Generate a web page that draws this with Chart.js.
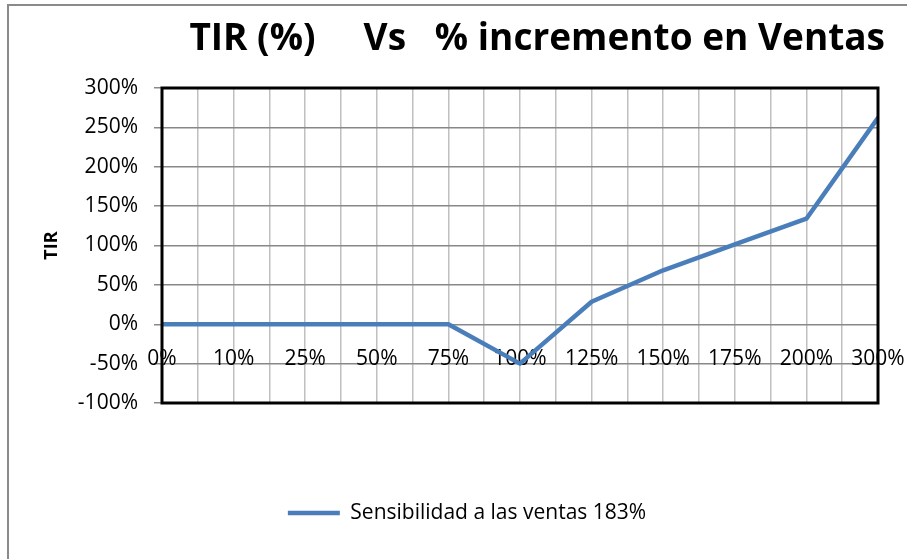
<!DOCTYPE html>
<html>
<head>
<meta charset="utf-8">
<script src="https://cdn.jsdelivr.net/npm/chart.js@4.4.1/dist/chart.umd.min.js"></script>
<style>
  html, body { margin: 0; padding: 0; background: #ffffff; }
  #wrap { width: 907px; height: 559px; position: relative; }
</style>
</head>
<body>
<div id="wrap"><canvas id="c" width="907" height="559"></canvas></div>
<script>
// ---- data ----
const categories = ['0%', '10%', '25%', '50%', '75%', '100%', '125%', '150%', '175%', '200%', '300%'];
const tirValues = [0, 0, 0, 0, 0, -50, 28.5, 68.5, 101.5, 134, 262];
const yTicks = [-100, -50, 0, 50, 100, 150, 200, 250, 300];
const seriesName = 'Sensibilidad a las ventas 183%';
const chartTitle = 'TIR (%)     Vs   % incremento en Ventas';
const yAxisTitle = 'TIR';

const FONT = '"Open Sans", Lato, "DejaVu Sans", sans-serif';

const frame = {
  id: 'frame',
  beforeDraw(chart) {
    const ctx = chart.ctx;
    ctx.save();
    ctx.fillStyle = '#ffffff';
    ctx.fillRect(0, 0, chart.width, chart.height);
    ctx.strokeStyle = '#8a8a8a';
    ctx.lineWidth = 2;
    ctx.beginPath();
    ctx.moveTo(8, chart.height);
    ctx.lineTo(8, 5);
    ctx.lineTo(chart.width, 5);
    ctx.stroke();
    ctx.restore();
  },
  afterDatasetsDraw(chart) {
    const a = chart.chartArea;
    const ctx = chart.ctx;
    ctx.save();
    ctx.strokeStyle = '#000000';
    ctx.lineWidth = 3;
    ctx.strokeRect(a.left, a.top, a.right - a.left, a.bottom - a.top);
    ctx.restore();
  }
};

new Chart(document.getElementById('c'), {
  type: 'line',
  data: {
    datasets: [{
      label: seriesName,
      data: tirValues.map((v, i) => ({ x: i, y: v })),
      borderColor: '#4a7ebb',
      backgroundColor: '#4a7ebb',
      borderWidth: 4.5,
      borderCapStyle: 'round',
      borderJoinStyle: 'round',
      pointRadius: 0,
      pointHoverRadius: 0,
      pointStyle: 'line',
      tension: 0,
      xAxisID: 'x',
      yAxisID: 'y'
    }]
  },
  options: {
    responsive: false,
    animation: false,
    events: [],
    layout: { padding: { left: 49, right: 22, top: 0, bottom: 25.5 } },
    plugins: {
      title: {
        display: true,
        text: chartTitle,
        align: 'end',
        color: '#000000',
        font: { family: FONT, size: 37, weight: 'bold' },
        padding: { top: 17, bottom: 26.6 }
      },
      legend: {
        display: true,
        position: 'bottom',
        labels: {
          usePointStyle: true,
          pointStyle: 'line',
          pointStyleWidth: 52,
          padding: 99.5,
          color: '#000000',
          font: { family: FONT, size: 21 }
        }
      },
      tooltip: { enabled: false }
    },
    scales: {
      x: {
        type: 'linear',
        position: { y: 0 },
        min: 0,
        max: categories.length - 1,
        border: { display: false },
        grid: { color: '#c0c0c0', lineWidth: 1.5, drawTicks: false },
        afterFit: (s) => { s.paddingLeft = 0; s.paddingRight = 0; },
        ticks: {
          stepSize: 0.5,
          autoSkip: false,
          maxRotation: 0,
          padding: 22,
          color: '#000000',
          font: { family: FONT, size: 21 },
          callback: (v) => Number.isInteger(v) ? categories[v] : ''
        }
      },
      y: {
        type: 'linear',
        position: 'left',
        min: yTicks[0],
        max: yTicks[yTicks.length - 1],
        border: { display: false },
        grid: { color: '#888888', lineWidth: 1.5, tickLength: 8 },
        afterBuildTicks: (s) => { s.ticks = yTicks.map(v => ({ value: v })); },
        afterFit: (s) => { s.width = 162 - 49; },
        ticks: {
          padding: 16,
          color: '#000000',
          font: { family: FONT, size: 21 },
          callback: (v) => v + '%'
        },
        title: {
          display: true,
          text: yAxisTitle,
          color: '#000000',
          font: { family: FONT, size: 18, weight: 'bold' },
          padding: { top: -8, bottom: 0 }
        }
      },
      yR: {
        type: 'linear',
        position: 'right',
        display: true,
        grid: { display: false },
        border: { display: false },
        ticks: { display: false },
        afterFit: (s) => { s.width = 7; }
      }
    }
  },
  plugins: [frame]
});
</script>
</body>
</html>
